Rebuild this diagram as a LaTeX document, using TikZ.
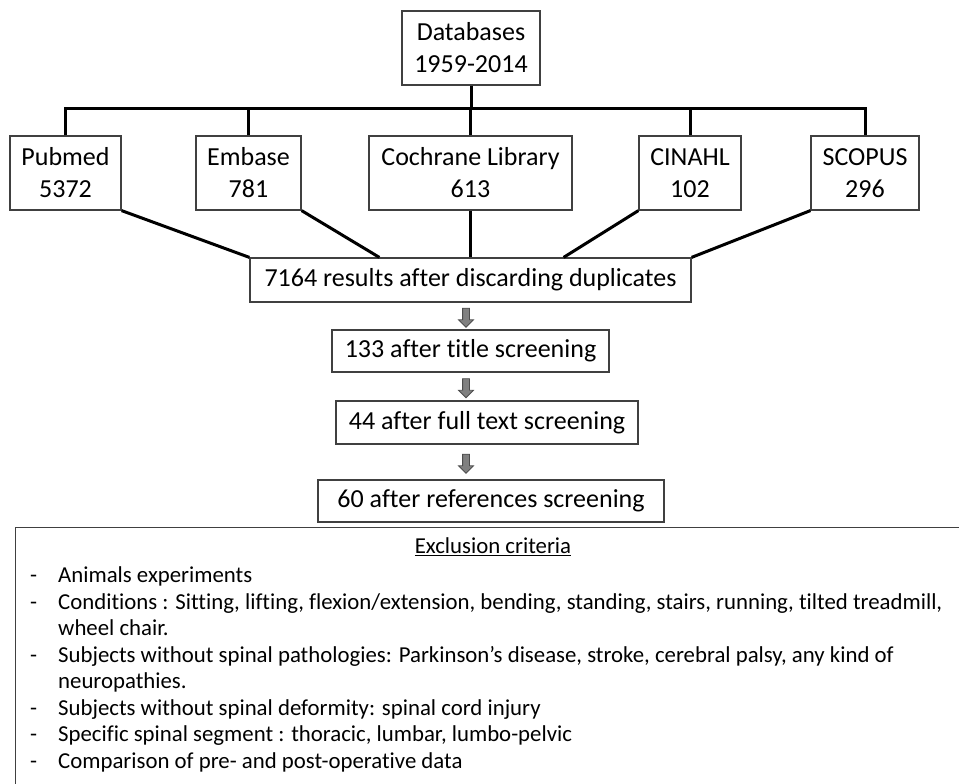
\documentclass[tikz,border=0pt]{standalone}
\usepackage{fontspec}
\setmainfont{Carlito}[Ligatures={NoCommon}]
\usepackage{tikz}
\usetikzlibrary{calc,shapes.arrows}

\tikzset{
  box/.style={draw=black!75, line width=1.2pt, align=center, inner sep=0pt,
    font=\fontsize{26}{32}\selectfont},
  link/.style={line width=3pt, black},
  downarr/.style={single arrow, shape border rotate=270, draw=black!70,
    fill=black!50, line width=0.8pt, inner sep=3pt, minimum height=19pt,
    single arrow head extend=4pt, single arrow head indent=0pt}
}
\newcommand{\critem}[1]{\strut\makebox[28pt][l]{-}#1}
\newcommand{\critcont}[1]{\strut\hspace*{28pt}#1}

\begin{document}
\begin{tikzpicture}[x=1pt,y=-1pt]
			\useasboundingbox (0,0) rectangle (959,784);
			% databases and search results
			\node[box, minimum width=138, minimum height=74] (db) at (471,48) {Databases\\1959-2014};
			\node[box, minimum width=111, minimum height=74] (pub) at (65.5,173) {Pubmed\\5372};
			\node[box, minimum width=105, minimum height=74] (emb) at (248.5,173) {Embase\\781};
			\node[box, minimum width=203, minimum height=74] (coc) at (470.5,173) {Cochrane Library\\613};
			\node[box, minimum width=102, minimum height=74] (cin) at (690,173) {CINAHL\\102};
			\node[box, minimum width=108, minimum height=74] (scp) at (865,173) {SCOPUS\\296};
			\coordinate (bus) at (471,108);
			\draw[link] (db.south) -- (bus);
			\draw[link] (pub.north) |- (bus) -| (scp.north);
			\foreach \n in {emb,coc,cin}
				\draw[link] (\n.north) -- (\n.north |- bus);
			% screening steps
			\node[box, minimum width=441, minimum height=44] (res) at (470.5,280) {7164 results after discarding duplicates};
			\node[box, minimum width=277, minimum height=42] (ttl) at (470.5,351) {133 after title screening};
			\node[box, minimum width=302, minimum height=43] (full) at (487,422.5) {44 after full text screening};
			\node[box, minimum width=346, minimum height=42] (refs) at (491,501) {60 after references screening};
			\draw[link] (pub.south east) -- (res.north west);
			\draw[link] (emb.south east) -- ([xshift=130pt]res.north west);
			\draw[link] (coc.south) -- (res.north);
			\draw[link] (cin.south west) -- ([xshift=-128pt]res.north east);
			\draw[link] (scp.south west) -- (res.north east);
			\node[downarr, xshift=-4.5pt] (a1) at ($(res.south)!0.5!(ttl.north)$) {};
			\node[downarr, xshift=-4.5pt] (a2) at ($(ttl.south)!0.5!(ttl.south |- full.north)$) {};
			\node[downarr, xshift=-4.5pt] (a3) at ($(res.south |- full.south)!0.5!(res.south |- refs.north)$) {};
			% exclusion criteria
			\node[box, minimum width=956, minimum height=300, anchor=north west] (excl) at (15,527) {};
			\node[font=\fontsize{22.8}{26.5}\selectfont, inner sep=0pt] (crithead) at (493,547) {\underline{Exclusion criteria}};
			\node[font=\fontsize{22.8}{26.5}\selectfont, inner sep=0pt, align=left, anchor=north west] (critlist) at (30,564) {%
				\critem{Animals experiments}\\
				\critem{Conditions : Sitting, lifting, flexion/extension, bending, standing, stairs, running, tilted treadmill,}\\
				\critcont{wheel chair.}\\
				\critem{Subjects without spinal pathologies: Parkinson’s disease, stroke, cerebral palsy, any kind of}\\
				\critcont{neuropathies.}\\
				\critem{Subjects without spinal deformity: spinal cord injury}\\
				\critem{Specific spinal segment : thoracic, lumbar, lumbo-pelvic}\\
				\critem{Comparison of pre- and post-operative data}};
		\end{tikzpicture}
\end{document}
